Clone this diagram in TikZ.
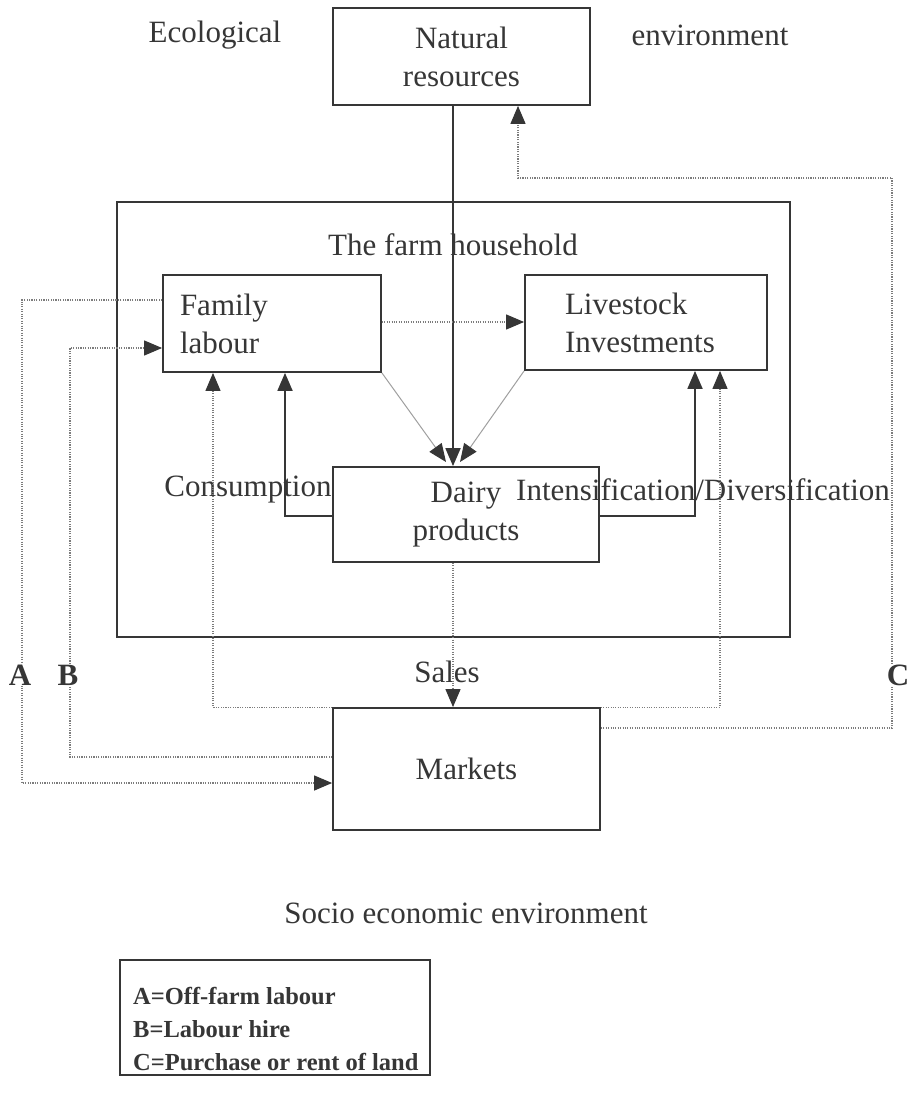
\documentclass[tikz,border=0pt]{standalone}
\usepackage{fontspec}
\setmainfont{Liberation Serif}
\usetikzlibrary{arrows.meta}
\definecolor{ink}{HTML}{363636}
\definecolor{dots}{HTML}{7C7C7C}

\begin{document}
\begin{tikzpicture}[x=1pt,y=-1pt,
	txt/.style={text=ink,font=\fontsize{31}{38}\selectfont},
	box/.style={txt,draw=ink,line width=1.8pt,align=center},
	solidln/.style={draw=ink,line width=1.8pt},
	dotln/.style={draw=dots,line width=1.2pt,dash pattern=on 1.1pt off 1.3pt},
	diagln/.style={draw=gray!75,line width=1pt},
	tip/.style={-{Triangle[length=18pt,width=15pt,color=ink]}}]
	
	\useasboundingbox (0,0) rectangle (921,1107);
	
	\node[box,minimum width=257pt,minimum height=97pt] (natural) at (461.5,56.5) {Natural\\resources};
	\node[box,minimum width=673pt,minimum height=435pt] (household) at (453.5,419.5) {};
	\node[box,align=left,text width=184pt,inner xsep=17pt,minimum height=97pt] (family) at (272,323.5) {Family\\labour};
	\node[box,align=left,text width=162pt,inner xsep=40pt,minimum height=95pt] (livestock) at (646,322.5) {Livestock\\Investments};
	\node[box,minimum width=266pt,minimum height=95pt] (dairy) at (466,514.5) {Dairy\\products};
	\node[box,minimum width=267pt,minimum height=122pt] (markets) at (466.5,769) {Markets};
	
	\node[txt] (eco) at (215,35) {Ecological};
	\node[txt] (env) at (710,35) {environment};
	\node[txt] (hhlabel) at (453,245) {The farm household};
	\node[txt] (cons) at (248,490) {Consumption};
	\node[txt] (intdiv) at (703,490) {Intensification/Diversification};
	\node[txt] (sales) at (447,672) {Sales};
	\node[txt] (socio) at (466,913) {Socio economic environment};
	
	\coordinate (xa) at (22,0);
	\coordinate (xb) at (70,0);
	\coordinate (xmf) at (213,0);
	\coordinate (xcons) at (285,0);
	\coordinate (xmid) at (453,0);
	\coordinate (xnat) at (518,0);
	\coordinate (xint) at (695,0);
	\coordinate (xml) at (720,0);
	\coordinate (xc) at (892,0);
	\coordinate (yc) at (0,178);
	\coordinate (ya) at (0,300);
	\coordinate (yfl) at (0,322);
	\coordinate (yb) at (0,348);
	\coordinate (ycons) at (0,516);
	\coordinate (ycm) at (0,728);
	\coordinate (ybm) at (0,757);
	\coordinate (yam) at (0,783);
	\coordinate (meetl) at (446,462);
	\coordinate (meetr) at (460,462);
	
	\draw[solidln,tip] (natural.south -| xmid) -- (dairy.north -| xmid);
	\draw[diagln,tip] (family.south east) -- (meetl);
	\draw[diagln,tip] (livestock.south west) -- (meetr);
	\draw[solidln,tip] (dairy.west |- ycons) -| (family.south -| xcons);
	\draw[solidln,tip] (dairy.east |- ycons) -| (livestock.south -| xint);
	
	\draw[dotln,tip] (family.east |- yfl) -- (livestock.west |- yfl);
	\draw[dotln,tip] (dairy.south -| xmid) -- (markets.north -| xmid);
	\draw[dotln,tip] (markets.north west) -| (family.south -| xmf);
	\draw[dotln,tip] (markets.north east) -| (livestock.south -| xml);
	\draw[dotln,tip] (family.west |- ya) -| (xa |- yam) -- (markets.west |- yam);
	\draw[dotln,tip] (markets.west |- ybm) -| (xb |- yb) -- (family.west |- yb);
	\draw[dotln,tip] (markets.east |- ycm) -| (xc |- yc) -| (natural.south -| xnat);
	
	\foreach \n/\x in {A/20,B/68,C/898}
		\node[txt,font=\fontsize{31}{36}\selectfont\bfseries,fill=white,inner sep=1pt] (lab\n) at (\x,675) {\n};
	
	\node[draw=ink,line width=1.6pt,minimum width=310pt,minimum height=115pt] (legend) at (275,1017.5) {};
	\node[anchor=west,align=left,text=ink,font=\fontsize{24.5}{33}\selectfont\bfseries,inner sep=0pt] (legendtext) at (133,1029) {A=Off-farm labour\\B=Labour hire\\C=Purchase or rent of land};
\end{tikzpicture}
\end{document}
